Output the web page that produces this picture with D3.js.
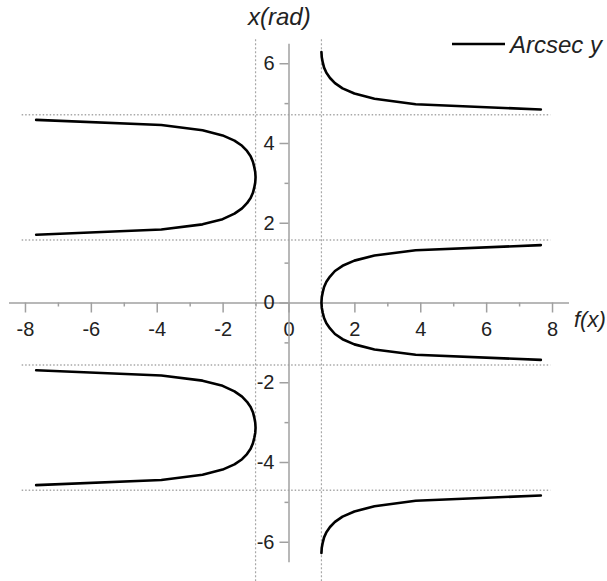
<!DOCTYPE html>
<html>
<head>
<meta charset="utf-8">
<script src="https://cdn.jsdelivr.net/npm/d3@7"></script>
<style>
  html, body { margin: 0; padding: 0; background: #fff; }
  svg { display: block; }
</style>
</head>
<body>
<svg id="chart" width="607" height="581"></svg>
<script>
// Sample points of the arcsecant: f(x) values on each side of the axis
const fxRight = [1.00, 1.01, 1.04, 1.08, 1.15, 1.26, 1.41, 1.64, 2.00, 2.61, 3.86, 7.66];
const fxLeft  = [-1.00, -1.01, -1.04, -1.08, -1.15, -1.26, -1.41, -1.64, -2.00, -2.61, -3.86, -7.66];

// Angles x(rad) for each branch, in the same order as the f(x) samples
const rightMidUpper = [0.00, 0.13, 0.26, 0.39, 0.52, 0.65, 0.79, 0.92, 1.05, 1.18, 1.31, 1.44];
const rightMidLower = [0.00, -0.13, -0.26, -0.39, -0.52, -0.65, -0.79, -0.92, -1.05, -1.18, -1.31, -1.44];
const rightTop      = [6.28, 6.15, 6.02, 5.89, 5.76, 5.63, 5.50, 5.37, 5.24, 5.11, 4.97, 4.84];
const rightBottom   = [-6.28, -6.15, -6.02, -5.89, -5.76, -5.63, -5.50, -5.37, -5.24, -5.11, -4.97, -4.84];
const leftUpperTop    = [3.14, 3.27, 3.40, 3.53, 3.67, 3.80, 3.93, 4.06, 4.19, 4.32, 4.45, 4.58];
const leftUpperBottom = [3.14, 3.01, 2.88, 2.75, 2.62, 2.49, 2.36, 2.23, 2.09, 1.96, 1.83, 1.70];
const leftLowerTop    = [-3.14, -3.01, -2.88, -2.75, -2.62, -2.49, -2.36, -2.23, -2.09, -1.96, -1.83, -1.70];
const leftLowerBottom = [-3.14, -3.27, -3.40, -3.53, -3.67, -3.80, -3.93, -4.06, -4.19, -4.32, -4.45, -4.58];

// Reference lines
const asymptoteAngles = [4.71, 1.57, -1.57, -4.71];
const asymptoteFx = [-1, 1];

// Axis ticks
const xMajorTicks = [-8, -6, -4, -2, 0, 2, 4, 6, 8];
const xMinorTicks = [-7, -5, -3, -1, 1, 3, 5, 7];
const yMajorTicks = [-6, -4, -2, 0, 2, 4, 6];
const yMinorTicks = [-5, -3, -1, 1, 3, 5];

const seriesName = "Arcsec y";
const xTitle = "f(x)";
const yTitle = "x(rad)";

const svg = d3.select("#chart");
const x = d3.scaleLinear().domain([-8.5, 8.5]).range([8.5, 568.5]);
const y = d3.scaleLinear().domain([-6.5, 6.5]).range([561.7, 43.3]);

const gridColor = "#a8a8a8";
const axisColor = "#a0a0a0";
const textColor = "#222";
const tickFont = "'Liberation Sans', Arial, sans-serif";
const plainNumber = d => String(d);

// Dotted horizontal lines at the asymptotes of the branches
svg.append("g").selectAll("line").data(asymptoteAngles).join("line")
  .attr("x1", x(-8.1)).attr("x2", x(7.95))
  .attr("y1", d => y(d)).attr("y2", d => y(d))
  .attr("stroke", gridColor).attr("stroke-width", 1.5)
  .attr("stroke-dasharray", "1.5,2");

// Dashed vertical lines at f(x) = ±1
svg.append("g").selectAll("line").data(asymptoteFx).join("line")
  .attr("x1", d => x(d)).attr("x2", d => x(d))
  .attr("y1", y(6.6)).attr("y2", y(-7.1))
  .attr("stroke", gridColor).attr("stroke-width", 1.2)
  .attr("stroke-dasharray", "2,2");

// X axis
const xAxisG = svg.append("g").attr("transform", `translate(0,${y(0)})`);
xAxisG.append("g").attr("class", "minor")
  .call(d3.axisBottom(x).tickValues(xMinorTicks).tickSize(4).tickFormat(""));
xAxisG.append("g")
  .call(d3.axisBottom(x).tickValues(xMajorTicks).tickSize(10).tickSizeOuter(0).tickPadding(9).tickFormat(plainNumber));

// Y axis
const yAxisG = svg.append("g").attr("transform", `translate(${x(0)},0)`);
yAxisG.append("g").attr("class", "minor")
  .call(d3.axisLeft(y).tickValues(yMinorTicks).tickSize(4).tickFormat(""));
yAxisG.append("g")
  .call(d3.axisLeft(y).tickValues(yMajorTicks).tickSize(9).tickSizeOuter(0).tickPadding(5).tickFormat(plainNumber));

svg.selectAll(".domain").attr("stroke", axisColor).attr("stroke-width", 1.5);
svg.selectAll(".tick line").attr("stroke", axisColor).attr("stroke-width", 1.5);
svg.selectAll(".tick text")
  .attr("fill", textColor)
  .attr("font-family", tickFont)
  .attr("font-size", 20);
// only the major axes draw the domain line
svg.selectAll(".minor .domain").attr("stroke", "none");

// Curves
const line = d3.line().x(d => x(d[0])).y(d => y(d[1]));
const zip = (fx, ang) => fx.map((v, i) => [v, ang[i]]);
const joinHalves = (fx, a, b) => zip(fx, a).reverse().concat(zip(fx, b).slice(1));

const branches = [
  joinHalves(fxRight, rightMidUpper, rightMidLower),
  zip(fxRight, rightTop),
  zip(fxRight, rightBottom),
  joinHalves(fxLeft, leftUpperTop, leftUpperBottom),
  joinHalves(fxLeft, leftLowerTop, leftLowerBottom)
];

svg.append("g").selectAll("path").data(branches).join("path")
  .attr("d", line)
  .attr("fill", "none")
  .attr("stroke", "#000")
  .attr("stroke-width", 2.6)
  .attr("stroke-linejoin", "round")
  .attr("stroke-linecap", "round");

// Axis titles
svg.append("text")
  .attr("x", 248).attr("y", 25)
  .attr("font-family", tickFont).attr("font-style", "italic").attr("font-size", 24)
  .attr("fill", textColor)
  .text(yTitle);
svg.append("text")
  .attr("x", 574).attr("y", 327)
  .attr("font-family", tickFont).attr("font-style", "italic").attr("font-size", 22)
  .attr("fill", textColor)
  .text(xTitle);

// Legend
const legend = svg.append("g").attr("transform", "translate(452,44)");
legend.append("line")
  .attr("x1", 0).attr("x2", 53).attr("y1", 0).attr("y2", 0)
  .attr("stroke", "#000").attr("stroke-width", 2.6);
legend.append("text")
  .attr("x", 58).attr("y", 8.5)
  .attr("font-family", tickFont).attr("font-style", "italic").attr("font-size", 24)
  .attr("fill", textColor)
  .text(seriesName);
</script>
</body>
</html>
